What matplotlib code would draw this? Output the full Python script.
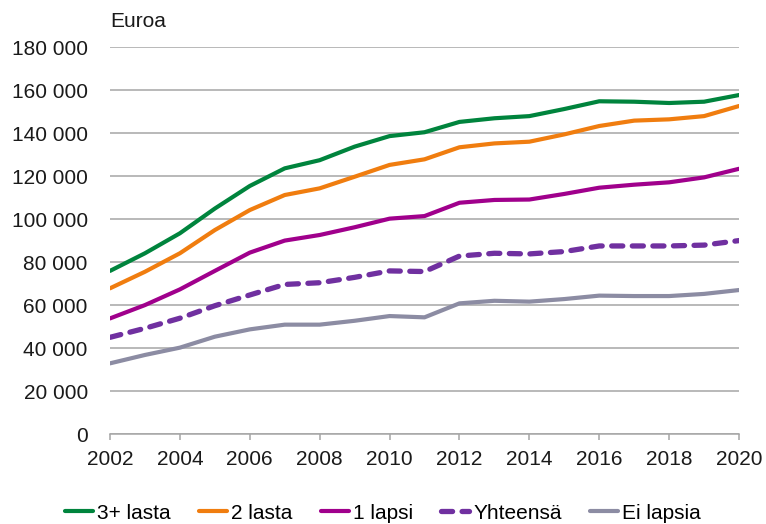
import numpy as np
import matplotlib.pyplot as plt

plt.rcParams['font.family'] = ['Liberation Sans', 'DejaVu Sans']

vuodet = list(range(2002, 2021))

# Keskimääräiset arvot, euroa (luettu kuvasta)
lasta3 = [76000, 84200, 93500, 105000, 115500, 123700, 127500, 133800, 138700, 140500,
          145300, 147000, 148000, 151300, 154900, 154700, 154100, 154700, 157800]
lasta2 = [67900, 75600, 84200, 95000, 104300, 111300, 114400, 119800, 125300, 127900,
          133500, 135300, 136100, 139500, 143400, 145900, 146500, 148000, 152700]
lapsi1 = [53900, 60100, 67400, 76000, 84500, 90100, 92700, 96300, 100300, 101500,
          107700, 109000, 109200, 111800, 114700, 116100, 117200, 119500, 123500]
yhteensa = [45100, 49300, 54000, 59800, 64800, 69700, 70500, 73000, 76000, 75700,
            82900, 84200, 83900, 85000, 87600, 87600, 87600, 88000, 90100]
ei_lapsia = [33000, 36900, 40300, 45400, 48800, 51000, 51000, 52800, 55000, 54400,
             60900, 62100, 61700, 62900, 64500, 64300, 64300, 65300, 67100]

fig = plt.figure(figsize=(7.66, 5.24), dpi=100)
ax = fig.add_axes([0.1436, 0.1712, 0.8212, 0.7385])

ax.plot(vuodet, lasta3, color='#00843D', lw=3, label='3+ lasta', solid_capstyle='round')
ax.plot(vuodet, lasta2, color='#F07D0F', lw=3, label='2 lasta', solid_capstyle='round')
ax.plot(vuodet, lapsi1, color='#A0008C', lw=3, label='1 lapsi', solid_capstyle='round')
ax.plot(vuodet, yhteensa, color='#7030A0', lw=3.8, label='Yhteensä',
        linestyle=(0, (2.1, 1.8)), dash_capstyle='round')
ax.plot(vuodet, ei_lapsia, color='#8C8CA3', lw=3, label='Ei lapsia', solid_capstyle='round')

ax.set_xlim(2002, 2020)
ax.set_ylim(0, 180000)
ax.set_xticks(range(2002, 2021, 2))
ax.set_yticks(range(0, 180001, 20000))
ax.set_yticklabels([f'{v:,}'.replace(',', ' ') for v in range(0, 180001, 20000)])

ax.grid(axis='y', color='#A6A6A6', lw=1.1)
ax.set_axisbelow(True)
for s in ['top', 'right', 'left']:
    ax.spines[s].set_visible(False)
ax.spines['bottom'].set_color('#A6A6A6')
ax.spines['bottom'].set_linewidth(1.1)
ax.tick_params(axis='y', length=0, pad=16, labelsize=15, labelcolor='#1a1a1a')
ax.tick_params(axis='x', length=4, width=1.1, color='#A6A6A6', pad=7, labelsize=15,
               labelcolor='#1a1a1a')

ax.annotate('Euroa', xy=(0, 1), xycoords='axes fraction', xytext=(0, 12),
            textcoords='offset points', fontsize=15, color='#1a1a1a', va='bottom')

fig.legend(loc='lower center', bbox_to_anchor=(0.5, -0.033), ncol=5, frameon=False,
           fontsize=15, handlelength=1.35, handletextpad=0.2, columnspacing=1.35)

fig.savefig('out.png', dpi=100)
